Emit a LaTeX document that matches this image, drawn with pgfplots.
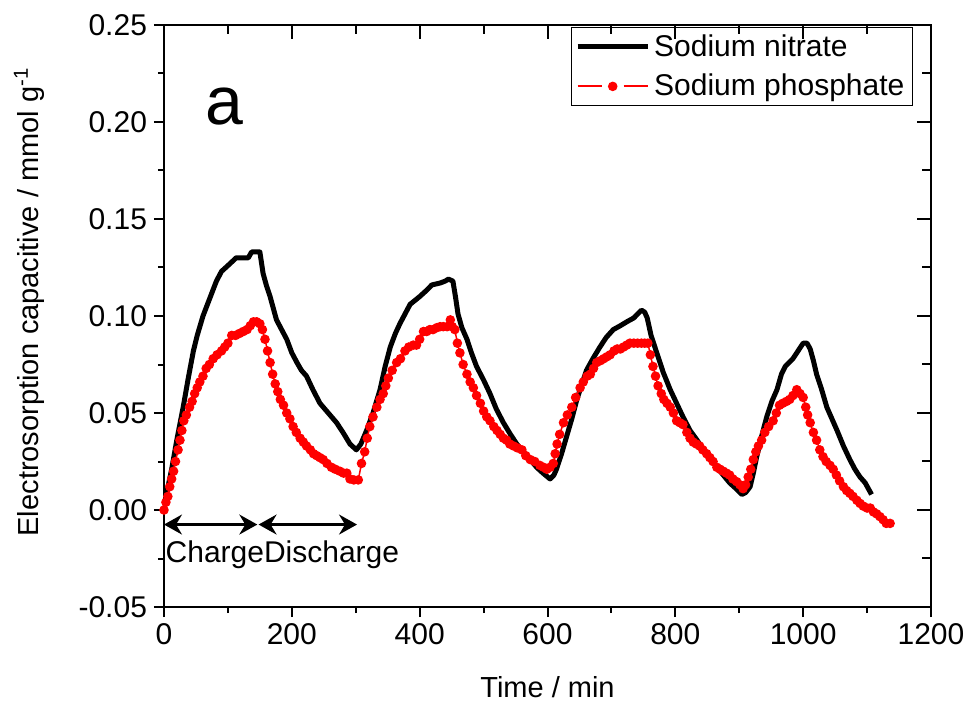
\documentclass[border=0pt]{standalone}
\usepackage{fontspec}
\setmainfont{Liberation Sans}
\usepackage{pgfplots}
\pgfplotsset{compat=1.18}
\usetikzlibrary{arrows.meta}

\pgfplotstableread{
t y
0 0.003
5 0.010
12 0.021
20 0.036
30 0.053
38 0.068
46 0.082
52 0.090
61 0.100
68 0.106
75 0.112
82 0.118
90 0.123
100 0.126
113 0.130
132 0.130
137 0.133
150 0.133
155 0.122
160 0.116
166 0.110
176 0.098
184 0.093
192 0.088
200 0.081
208 0.076
215 0.072
223 0.069
233 0.062
244 0.055
257 0.050
270 0.045
280 0.040
291 0.034
301 0.031
308 0.034
317 0.041
327 0.050
338 0.062
346 0.074
354 0.084
362 0.091
369 0.096
377 0.101
385 0.106
400 0.110
410 0.113
419 0.116
432 0.117
440 0.118
445 0.119
452 0.118
456 0.110
460 0.101
466 0.094
474 0.088
481 0.081
489 0.074
500 0.067
510 0.060
520 0.052
531 0.045
542 0.039
552 0.034
562 0.030
573 0.026
583 0.022
593 0.019
604 0.016
610 0.018
614 0.021
622 0.029
630 0.038
638 0.047
646 0.057
654 0.065
661 0.072
671 0.078
682 0.084
692 0.089
703 0.093
714 0.095
724 0.097
735 0.099
747 0.103
752 0.102
756 0.099
762 0.090
770 0.082
781 0.071
792 0.062
802 0.055
812 0.048
823 0.041
834 0.036
844 0.031
854 0.027
865 0.022
875 0.018
885 0.014
895 0.011
904 0.008
910 0.009
917 0.012
922 0.019
927 0.027
935 0.038
943 0.048
951 0.056
959 0.062
966 0.070
972 0.074
984 0.078
992 0.082
1000 0.086
1006 0.086
1011 0.083
1016 0.077
1021 0.070
1029 0.062
1037 0.053
1045 0.047
1053 0.041
1063 0.033
1073 0.026
1081 0.021
1089 0.017
1097 0.014
1102 0.011
1107 0.008
}\nitrate

\pgfplotstableread{
t y
0 0.000
3 0.004
6 0.007
9 0.012
12 0.016
15 0.020
18 0.025
22 0.031
25 0.036
28 0.041
31 0.046
35 0.049
40 0.053
44 0.056
48 0.060
52 0.063
56 0.066
61 0.069
66 0.073
71 0.075
77 0.078
83 0.080
90 0.082
95 0.084
100 0.086
106 0.090
112 0.090
118 0.091
124 0.092
130 0.093
135 0.095
140 0.097
145 0.097
150 0.096
154 0.093
158 0.088
162 0.082
166 0.076
170 0.070
174 0.065
178 0.061
182 0.057
187 0.054
192 0.050
197 0.047
202 0.043
207 0.040
213 0.037
218 0.035
223 0.033
229 0.031
234 0.029
239 0.028
244 0.027
249 0.026
255 0.024
262 0.022
268 0.021
275 0.020
281 0.019
286 0.019
291 0.016
297 0.0155
304 0.0155
309 0.024
314 0.030
318 0.037
322 0.043
327 0.048
333 0.053
338 0.057
343 0.060
347 0.064
351 0.068
357 0.072
364 0.076
370 0.078
377 0.082
383 0.084
390 0.085
395 0.085
400 0.088
406 0.092
411 0.092
416 0.093
421 0.093
427 0.094
432 0.0945
437 0.0945
443 0.0945
448 0.098
451 0.0945
455 0.093
459 0.086
463 0.081
468 0.075
474 0.070
479 0.066
484 0.063
489 0.059
495 0.055
500 0.051
505 0.048
510 0.046
516 0.043
521 0.041
526 0.039
531 0.037
536 0.036
541 0.034
547 0.033
553 0.032
560 0.031
566 0.028
573 0.026
580 0.025
588 0.023
594 0.022
599 0.021
604 0.022
609 0.024
612 0.029
615 0.034
619 0.039
625 0.045
631 0.049
638 0.053
644 0.058
651 0.063
656 0.066
662 0.069
667 0.070
672 0.073
677 0.076
683 0.077
688 0.078
693 0.079
698 0.080
704 0.082
709 0.083
714 0.083
719 0.084
724 0.085
729 0.086
735 0.086
741 0.086
747 0.086
752 0.086
757 0.086
761 0.080
765 0.074
769 0.069
773 0.064
778 0.060
782 0.057
787 0.055
792 0.053
797 0.050
802 0.046
807 0.045
812 0.044
818 0.040
823 0.037
828 0.035
833 0.034
838 0.033
843 0.031
849 0.029
854 0.027
859 0.025
865 0.022
870 0.021
875 0.020
880 0.019
885 0.018
890 0.016
896 0.0146
901 0.013
906 0.011
910 0.013
914 0.017
918 0.021
922 0.026
926 0.030
930 0.033
935 0.036
940 0.040
946 0.043
953 0.046
958 0.050
963 0.054
968 0.055
974 0.056
979 0.057
984 0.059
990 0.062
995 0.060
1000 0.058
1004 0.053
1007 0.049
1011 0.045
1016 0.040
1021 0.036
1026 0.031
1031 0.0275
1036 0.025
1042 0.023
1047 0.021
1052 0.018
1057 0.015
1063 0.012
1068 0.010
1073 0.0086
1078 0.007
1084 0.005
1089 0.0034
1094 0.002
1100 0.001
1105 0.001
1110 -0.001
1115 -0.002
1120 -0.0034
1125 -0.005
1130 -0.0069
1136 -0.0069
}\phosphate

\begin{document}
\begin{tikzpicture}
\pgfplotsset{
  myaxis/.style={
    at={(0,0)}, anchor=south west,
    scale only axis, width=383.5bp, height=291bp,
    xmin=0, xmax=1200, ymin=-0.05, ymax=0.25,
    xtick={0,200,...,1200}, minor x tick num=1,
    ytick={-0.05,0,0.05,0.10,0.15,0.20,0.25}, minor y tick num=1,
    every tick/.style={black, line width=1bp},
    axis line style={line width=1.25bp},
  }
}
\begin{axis}[
  myaxis,
  xtick pos=left, ytick pos=left, tick align=outside,
  major tick length=5bp, minor tick length=3bp,
  /pgf/number format/assume math mode=true,
  scaled y ticks=false,
  xticklabel style={/pgf/number format/1000 sep={}},
  yticklabel style={/pgf/number format/fixed, /pgf/number format/fixed zerofill, /pgf/number format/precision=2},
  ticklabel style={font=\fontsize{15bp}{18bp}\selectfont},
  xlabel={Time / min},
  ylabel={Electrosorption capacitive / mmol g\textsuperscript{-1}},
  xlabel style={at={(axis description cs:0.5,-0.1375)}, anchor=center, font=\fontsize{14.5bp}{17bp}\selectfont},
  ylabel style={at={(axis description cs:-0.176,0.524)}, anchor=center, font=\fontsize{14.5bp}{17bp}\selectfont},
  legend style={at={(0.9765,0.997)}, anchor=north east, draw=black, line width=0.6bp,
    font=\fontsize{15bp}{18bp}\selectfont, inner xsep=2bp, inner ysep=1.5bp, row sep=3.5bp,
    cells={anchor=west}},
]
\addplot[black, line width=2.5bp, line join=round,
  legend image code/.code={\draw[draw=black,line width=2.5bp] (0bp,0bp)--(35bp,0bp);}]
  table[x=t,y=y] {\nitrate};
\addlegendentry{Sodium nitrate}
\addplot[red, line width=0.75bp, mark=*, mark size=2bp, mark options={fill=red, draw=red},
  legend image code/.code={\draw[draw=red,line width=1bp] (0bp,0bp)--(12bp,0bp) (23bp,0bp)--(35bp,0bp); \fill[fill=red] (17.5bp,0bp) circle (2bp);}]
  table[x=t,y=y] {\phosphate};
\addlegendentry{Sodium phosphate}
\draw[{Stealth[length=9bp,width=10bp,inset=3bp]}-{Stealth[length=9bp,width=10bp,inset=3bp]}, line width=1.2bp]
  (axis cs:0,-0.0075) -- (axis cs:146,-0.0075);
\draw[{Stealth[length=9bp,width=10bp,inset=3bp]}-{Stealth[length=9bp,width=10bp,inset=3bp]}, line width=1.2bp]
  (axis cs:148,-0.0075) -- (axis cs:302,-0.0075);
\node[anchor=west, inner sep=0pt, font=\fontsize{15bp}{18bp}\selectfont] at (axis cs:2,-0.023) {ChargeDischarge};
\node[font=\fontsize{34bp}{40bp}\selectfont] at (axis cs:94,0.208) {a};
\end{axis}
\begin{axis}[
  myaxis,
  xtick pos=right, ytick pos=right, tick align=inside,
  major tick length=7bp, minor tick length=4.5bp,
  xticklabels={}, yticklabels={},
  axis line style={draw=none},
]
\end{axis}
\pgfresetboundingbox
\path[use as bounding box] (-82bp,-47.5bp) rectangle (400.5bp,303.5bp);
\end{tikzpicture}
\end{document}
